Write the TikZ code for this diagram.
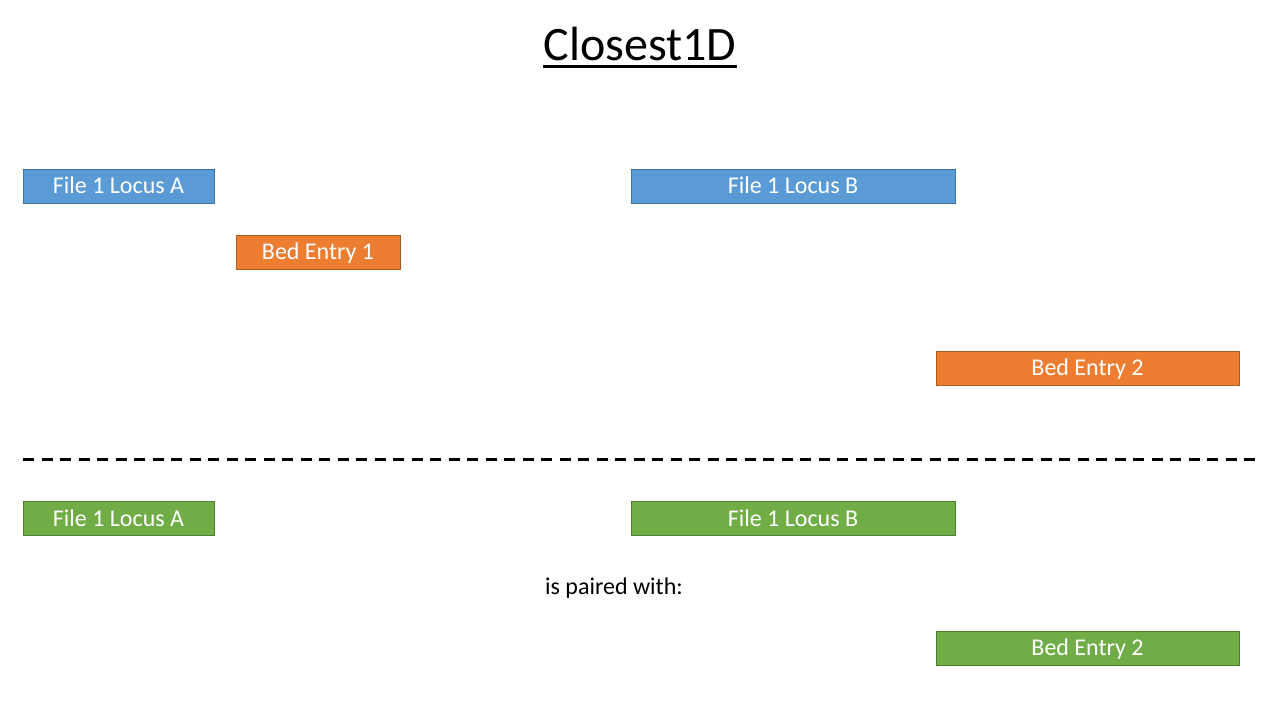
\documentclass[tikz,border=0pt]{standalone}
\usepackage{fontspec}
\setmainfont{Carlito}
\definecolor{locusblue}{HTML}{5B9BD5}
\definecolor{locusblueline}{HTML}{41719C}
\definecolor{bedorange}{HTML}{ED7D31}
\definecolor{bedorangeline}{HTML}{AE5A21}
\definecolor{pairgreen}{HTML}{70AD47}
\definecolor{pairgreenline}{HTML}{507E32}
\tikzset{
  box/.style={rectangle, inner sep=0pt, minimum height=34pt, text=white,
    text height=15.5pt, text depth=0pt, font=\fontsize{24}{29}\selectfont},
  locus/.style={box, fill=locusblue, draw=locusblueline},
  bedentry/.style={box, fill=bedorange, draw=bedorangeline},
  paired/.style={box, fill=pairgreen, draw=pairgreenline}
}
\begin{document}
\begin{tikzpicture}[x=1pt, y=-1pt]
        \useasboundingbox[fill=white] (0,0) rectangle (1280,720);

        \node[inner sep=0pt, anchor=base, font=\fontsize{48}{58}\selectfont] (title) at (640,60) {Closest1D};
        \draw[line width=3pt] ([yshift=-6.5pt]title.base west) -- ([yshift=-6.5pt]title.base east);

        % upper part
        \node[locus, minimum width=191pt] (locA) at (118.5,186) {File 1 Locus A};
        \node[locus, minimum width=324pt] (locB) at (793,186) {File 1 Locus B};
        \node[bedentry, minimum width=164pt] (bedA) at (318,252) {Bed Entry 1};
        \node[bedentry, minimum width=303pt] (bedB) at (1087.5,368) {Bed Entry 2};

        \draw[line width=3pt, dash pattern=on 11pt off 7.5pt] (23,459) -- (1255,459);

        % lower part
        \node[paired, minimum width=191pt] (pairA) at (118.5,518.5) {File 1 Locus A};
        \node[paired, minimum width=324pt] (pairB) at (793,518.5) {File 1 Locus B};
        \node[font=\fontsize{24}{29}\selectfont] (with) at (614,588) {is paired with:};
        \node[paired, minimum width=303pt] (pairBed) at (1087.5,648) {Bed Entry 2};

    \end{tikzpicture}
\end{document}
